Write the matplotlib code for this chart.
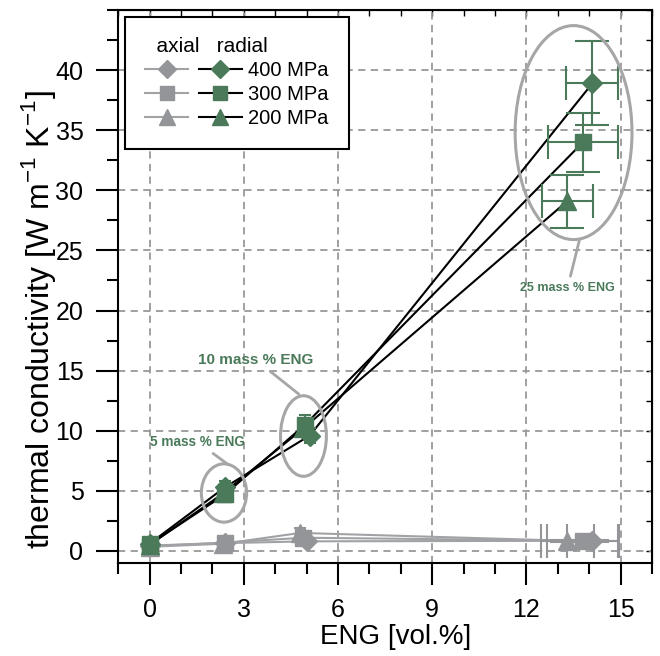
import matplotlib.pyplot as plt
from matplotlib.lines import Line2D
from matplotlib.patches import Ellipse
from matplotlib.legend_handler import HandlerTuple
from matplotlib.ticker import MultipleLocator, FixedLocator

plt.rcParams['font.family'] = ['Liberation Sans', 'DejaVu Sans']

# data: ENG content [vol.%] and thermal conductivity [W m-1 K-1]
labels = ["400 MPa", "300 MPa", "200 MPa"]
markers = ["D", "s", "^"]
msizes = [10, 11, 13]

# radial direction
rad_x = [[0, 2.4, 5.1, 14.1],
         [0, 2.4, 4.95, 13.8],
         [0, 2.35, 4.9, 13.3]]
rad_y = [[0.6, 5.3, 9.6, 38.9],
         [0.55, 4.7, 10.5, 34.0],
         [0.5, 4.8, 10.2, 29.1]]
rad_yerr = [[0.3, 0.5, 0.6, 3.5],
            [0.3, 0.5, 0.8, 2.45],
            [0.3, 0.5, 0.6, 2.2]]
rad_xerr = [[0.05, 0.1, 0.15, 0.83],
            [0.05, 0.1, 0.15, 1.1],
            [0.05, 0.1, 0.15, 0.82]]

# axial direction
ax_x = [[0, 2.4, 5.0, 14.1],
        [0, 2.4, 4.9, 13.8],
        [0, 2.35, 4.8, 13.3]]
ax_y = [[0.45, 0.65, 0.8, 0.85],
        [0.4, 0.7, 1.1, 0.85],
        [0.35, 0.6, 1.5, 0.85]]
ax_yerr = [[0.1, 0.3, 0.4, 0.1],
           [0.1, 0.3, 0.4, 0.1],
           [0.1, 0.3, 0.4, 0.1]]
ax_xerr = [[0.05, 0.1, 0.15, 0.8],
           [0.05, 0.1, 0.15, 1.14],
           [0.05, 0.1, 0.15, 0.85]]

# ellipses around the mass-% groups: (cx, cy, w, h), text pos, leader end
ell_names = ["5 mass % ENG", "10 mass % ENG", "25 mass % ENG"]
ell_geo = [(2.37, 4.82, 1.44, 4.85), (4.9, 9.56, 1.46, 6.7), (13.5, 34.8, 3.72, 17.8)]
ell_text = [(1.53, 9.06), (3.38, 15.9), (13.31, 21.9)]
ell_tip = [(2.48, 7.23), (4.75, 13.05), (13.69, 25.9)]
ell_fs = [9.8, 11, 9]

green = "#4a7a5a"
gray = "#939598"
gline = "#a0a2a5"
egray = "#a6a6a6"

fig = plt.figure(figsize=(6.6, 6.56), dpi=100)
ax = fig.add_axes([0.179, 0.1418, 0.809, 0.843])


def draw_series(xs, ys, xe, ye, mk, ms, col, lcol, z):
    ax.plot(xs, ys, color=lcol, lw=1.5, zorder=z)
    # small caps for the low-content points, big caps for 25 mass %
    ax.errorbar(xs[:3], ys[:3], yerr=ye[:3], xerr=xe[:3], fmt=mk, ms=ms,
                color=col, mec=col, ecolor=col, elinewidth=1.5,
                capsize=4, capthick=1.5, zorder=z + 1)
    ax.errorbar(xs[3:], ys[3:], yerr=ye[3:], xerr=xe[3:], fmt=mk, ms=ms,
                color=col, mec=col, ecolor=col, elinewidth=1.5,
                capsize=12, capthick=1.5, zorder=z + 1)


for i in range(3):
    draw_series(ax_x[i], ax_y[i], ax_xerr[i], ax_yerr[i], markers[i], msizes[i], gray, gline, 2)
for i in range(3):
    draw_series(rad_x[i], rad_y[i], rad_xerr[i], rad_yerr[i], markers[i], msizes[i], green, "black", 4)

for (cx, cy, w, h), name, tpos, tip, fs in zip(ell_geo, ell_names, ell_text, ell_tip, ell_fs):
    ax.add_patch(Ellipse((cx, cy), w, h, fill=False, ec=egray, lw=2.2, zorder=6))
    ax.annotate(name, xy=tip, xytext=tpos, ha="center", va="center",
                fontsize=fs, fontweight="bold", color=green, zorder=7,
                arrowprops=dict(arrowstyle="-", color=egray, lw=2.0,
                                shrinkA=2, shrinkB=0))

ax.set_xlim(-1, 16)
ax.set_ylim(-1, 45)
ax.xaxis.set_major_locator(MultipleLocator(3))
ax.xaxis.set_minor_locator(MultipleLocator(1))
ax.yaxis.set_major_locator(FixedLocator(list(range(0, 41, 5))))
ax.yaxis.set_minor_locator(MultipleLocator(2.5))
ax.grid(True, which="major", color="#999999", ls=(0, (4, 3)), lw=1.3)
ax.set_axisbelow(True)

ax.tick_params(which="major", direction="out", length=16, width=1.5, labelsize=18, pad=9)
ax.tick_params(which="minor", direction="out", length=8, width=1.5)
for s in ax.spines.values():
    s.set_linewidth(1.5)

# small inward ticks on top and right
top = ax.secondary_xaxis("top")
top.xaxis.set_major_locator(MultipleLocator(3))
top.xaxis.set_minor_locator(MultipleLocator(1))
top.tick_params(which="both", direction="in", length=4, width=1, labeltop=False)
right = ax.secondary_yaxis("right")
right.yaxis.set_major_locator(MultipleLocator(5))
right.yaxis.set_minor_locator(MultipleLocator(2.5))
right.tick_params(which="both", direction="in", length=4, width=1, labelright=False)

ax.set_xlabel("ENG [vol.%]", fontsize=20)
ax.set_ylabel("thermal conductivity [W m$^{\\mathregular{-1}}$ K$^{\\mathregular{-1}}$]", fontsize=23)
ax.xaxis.set_label_coords(0.52, -0.11)
ax.yaxis.set_label_coords(-0.113, 0.44)

handles = []
for i in range(3):
    h_ax = Line2D([], [], color=gline, lw=1.5, marker=markers[i], ms=msizes[i] - 1,
                  mfc=gray, mec=gray)
    h_rad = Line2D([], [], color="black", lw=1.5, marker=markers[i], ms=msizes[i] - 1,
                   mfc=green, mec=green)
    handles.append((h_ax, h_rad))

leg = ax.legend(handles, labels, handler_map={tuple: HandlerTuple(ndivide=None, pad=0.55)},
                loc="upper left", bbox_to_anchor=(0.013, 0.987), borderaxespad=0,
                handlelength=4.8, handletextpad=0.3, fontsize=14.5, fancybox=False,
                edgecolor="black", framealpha=1, title="  axial   radial",
                title_fontsize=15, alignment="left", labelspacing=0.25,
                borderpad=1.0)
leg.get_frame().set_linewidth(1.5)
leg.set_zorder(10)

fig.savefig("out.png", dpi=100)
